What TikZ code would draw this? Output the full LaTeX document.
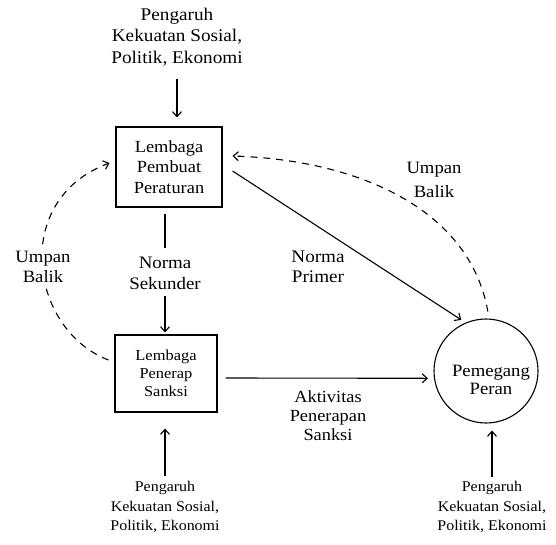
\documentclass[tikz,border=0pt]{standalone}
\usepackage{fontspec}
\setmainfont[FakeStretch=1.08]{Liberation Serif}
\usetikzlibrary{arrows.meta}
\begin{document}
\begin{tikzpicture}[x=1pt,y=-1pt,
  fs/.style 2 args={font=\fontsize{#1}{#2}\selectfont},
  lbl/.style={align=center,inner sep=0pt},
  boxnode/.style={draw,line width=1.1pt,align=center,inner sep=0pt},
  conn/.style={line width=1.1pt},
  tip/.style={-{Straight Barb[length=5pt,width=9pt]}},
  arr/.style={conn,tip},
  dsh/.style={conn,tip,dash pattern=on 7pt off 6pt}]
\useasboundingbox (0,0) rectangle (556,545);

% nodes
\node[lbl,fs={17.8}{21.5}] (top) at (177,37) {Pengaruh\\Kekuatan Sosial,\\Politik, Ekonomi};
\node[boxnode,fs={17}{20.5},minimum width=106pt,minimum height=80pt] (b1) at (169,167) {Lembaga\\Pembuat\\Peraturan};
\node[boxnode,fs={15.2}{18},minimum width=102pt,minimum height=77pt] (b2) at (166,373.5) {Lembaga\\Penerap\\Sanksi};
\node[draw,circle,conn,minimum size=104pt,inner sep=0pt] (c) at (486,371) {};
\node[lbl,fs={17.3}{18}] (ct) at (491,380) {Pemegang\\Peran};
\node[lbl,fs={17.5}{21}] (ns) at (165,273) {Norma\\Sekunder};
\node[lbl,fs={17.7}{20}] (np) at (318,267) {Norma\\Primer};
\node[lbl,fs={17}{19}] (ak) at (328,416) {Aktivitas\\Penerapan\\Sanksi};
\node[lbl,fs={17.3}{24}] (ubr) at (434,180) {Umpan\\Balik};
\node[lbl,fs={14.8}{19.5}] (bl) at (165,507) {Pengaruh\\Kekuatan Sosial,\\Politik, Ekonomi};
\node[lbl,fs={14.8}{19.5}] (br) at (492,507) {Pengaruh\\Kekuatan Sosial,\\Politik, Ekonomi};

% connectors
\draw[arr,shorten <=13pt,shorten >=9pt] (top.south) -- (top.south |- b1.north);
\draw[conn,shorten <=6pt,shorten >=8pt] (ns.north |- b1.south) -- (ns.north);
\draw[arr,shorten <=6pt,shorten >=2pt] (ns.south) -- (ns.south |- b2.north);
\draw[arr,shorten >=5pt] ([xshift=10pt,yshift=-4pt]b1.east) -- (c.113);
\draw[arr,shorten >=6pt] ([xshift=8pt,yshift=-4.5pt]b2.east) -- (c.188);
\draw[arr,shorten <=5pt,shorten >=16pt] (bl.north) -- (bl.north |- b2.south);
\draw[arr,shorten <=4pt,shorten >=7pt] (br.north) -- (br.north |- c.south);
\draw[dsh] ([yshift=7pt]c.88) .. controls (470,210) and (360,160) .. ([xshift=10pt,yshift=11pt]b1.east);
\draw[dsh] ([xshift=-6pt,yshift=13.5pt]b2.west) .. controls (30,330) and (10,200) .. ([xshift=-6pt,yshift=4pt]b1.west);

\node[lbl,fs={17.3}{20},fill=white,inner sep=4pt] (ubl) at (43,267) {Umpan\\Balik};
\end{tikzpicture}
\end{document}
